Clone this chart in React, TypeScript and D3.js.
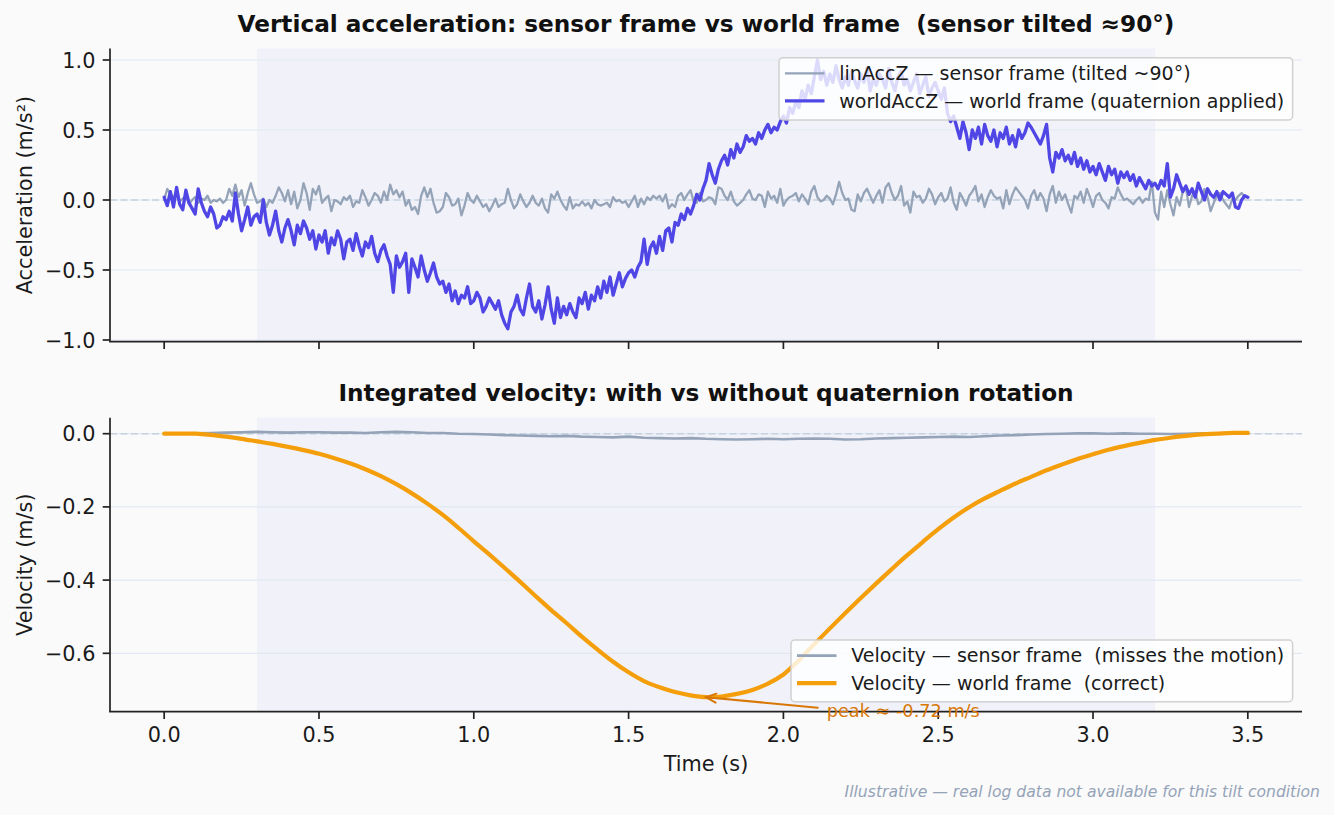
import React from 'react';
import * as d3 from 'd3';

// ---------- data ----------
const SAMPLE_DT = 0.01; // acceleration sample step (s)
const VEL_DT = 0.05; // velocity sample step (s)

const linAccZ = [
  0.00, 0.08, 0.04, 0.02, 0.05, -0.01, 0.01, 0.03, -0.03, 0.00,
  0.02, -0.02, 0.01, 0.00, 0.03, -0.02, 0.00, -0.01, 0.01, -0.02,
  0.00, 0.08, 0.03, 0.11, 0.02, 0.07, -0.04, 0.05, 0.12, 0.04,
  -0.02, -0.01, 0.01, -0.05, 0.00, -0.02, 0.03, 0.09, 0.05, -0.01,
  0.07, -0.03, 0.06, -0.06, 0.00, 0.12, 0.05, -0.07, 0.08, 0.04,
  0.10, -0.02, 0.01, 0.03, -0.08, 0.00, -0.01, -0.03, 0.02, 0.00,
  0.03, -0.05, -0.01, -0.02, 0.07, 0.02, -0.04, 0.00, 0.05, 0.03,
  -0.02, 0.06, 0.00, 0.11, 0.04, 0.07, 0.02, 0.06, -0.04, 0.00,
  -0.07, -0.05, -0.10, 0.03, 0.09, 0.02, 0.08, -0.02, -0.09, -0.08,
  -0.05, 0.05, 0.02, -0.04, -0.03, 0.01, -0.11, -0.04, 0.05, 0.00,
  -0.02, 0.03, -0.01, -0.05, -0.03, -0.08, -0.04, 0.01, -0.05, -0.03,
  -0.02, 0.08, 0.00, -0.06, -0.03, 0.04, -0.01, -0.05, -0.02, 0.03,
  -0.02, -0.04, 0.01, -0.06, -0.09, 0.04, 0.01, 0.06, 0.00, -0.04,
  -0.07, 0.02, -0.06, -0.03, -0.04, -0.01, -0.04, -0.02, -0.06, 0.00,
  -0.03, -0.04, -0.03, -0.02, -0.05, 0.02, -0.01, 0.00, -0.02, -0.01,
  -0.05, -0.01, 0.03, -0.05, 0.01, -0.03, 0.02, 0.00, 0.03, 0.01,
  0.03, -0.01, 0.04, -0.06, -0.03, -0.05, 0.03, 0.05, 0.00, 0.04,
  0.07, -0.01, -0.02, 0.05, -0.01, 0.00, 0.02, 0.01, -0.03, 0.09,
  0.08, 0.03, 0.00, 0.06, -0.01, -0.04, -0.02, 0.00, 0.04, 0.07,
  0.01, 0.00, 0.04, 0.03, -0.05, 0.06, 0.01, 0.03, -0.02, 0.08,
  -0.04, 0.00, 0.02, 0.03, 0.05, -0.01, 0.04, 0.01, -0.03, 0.06,
  0.10, 0.02, -0.01, 0.00, 0.03, 0.01, -0.03, 0.04, 0.13, 0.05,
  0.00, 0.01, -0.07, -0.08, 0.04, -0.01, 0.05, 0.08, 0.03, -0.02,
  0.03, 0.07, -0.02, 0.09, 0.12, 0.05, 0.00, 0.03, 0.10, -0.04,
  -0.01, -0.09, 0.06, 0.02, 0.03, -0.02, 0.01, 0.08, 0.04, -0.03,
  0.02, 0.05, -0.01, 0.01, 0.09, -0.02, -0.07, 0.05, 0.01, -0.04,
  0.03, 0.06, 0.10, -0.01, 0.04, -0.05, 0.02, 0.07, 0.03, 0.01,
  0.02, -0.06, 0.07, -0.03, 0.04, 0.09, 0.06, 0.03, 0.00, -0.06,
  0.03, 0.07, 0.00, 0.05, 0.01, -0.08, 0.04, 0.10, -0.02, 0.06,
  0.00, 0.04, -0.03, -0.09, 0.03, 0.01, 0.06, -0.02, 0.08, 0.02,
  -0.05, 0.03, 0.05, 0.00, -0.02, -0.06, 0.02, 0.01, 0.09, 0.04,
  0.00, 0.01, -0.01, -0.03, 0.00, 0.02, -0.02, 0.01, 0.00, 0.13,
  -0.09, -0.14, 0.06, -0.05, 0.07, -0.03, -0.11, 0.02, -0.04, 0.06,
  0.09, -0.05, 0.03, 0.06, -0.03, -0.01, 0.08, 0.02, -0.08, -0.02,
  0.03, 0.05, 0.00, -0.03, -0.06, 0.01, 0.00, 0.03, 0.05, 0.02,
  0.02,
];

const worldAccZ = [
  0.02, -0.04, 0.06, -0.05, 0.09, -0.03, -0.07, 0.07, -0.02, -0.06,
  -0.10, 0.08, -0.02, -0.08, -0.12, -0.05, -0.10, -0.20, -0.18, -0.12,
  -0.14, -0.08, -0.15, 0.05, -0.10, -0.22, -0.14, -0.05, -0.18, -0.12,
  -0.10, -0.16, 0.00, -0.16, -0.25, -0.18, -0.08, -0.22, -0.30, -0.20,
  -0.14, -0.22, -0.32, -0.18, -0.24, -0.15, -0.20, -0.28, -0.22, -0.35,
  -0.25, -0.30, -0.22, -0.38, -0.27, -0.32, -0.22, -0.28, -0.42, -0.30,
  -0.28, -0.36, -0.24, -0.33, -0.40, -0.30, -0.34, -0.26, -0.38, -0.44,
  -0.36, -0.32, -0.40, -0.46, -0.66, -0.40, -0.48, -0.44, -0.38, -0.66,
  -0.42, -0.48, -0.55, -0.40, -0.50, -0.58, -0.52, -0.45, -0.55, -0.60,
  -0.58, -0.66, -0.60, -0.72, -0.65, -0.74, -0.68, -0.70, -0.62, -0.74,
  -0.72, -0.66, -0.70, -0.80, -0.76, -0.70, -0.74, -0.78, -0.72, -0.82,
  -0.88, -0.92, -0.80, -0.76, -0.68, -0.78, -0.82, -0.70, -0.60, -0.76,
  -0.80, -0.72, -0.85, -0.75, -0.62, -0.78, -0.88, -0.70, -0.84, -0.76,
  -0.82, -0.74, -0.80, -0.84, -0.70, -0.74, -0.66, -0.78, -0.68, -0.72,
  -0.62, -0.70, -0.58, -0.66, -0.55, -0.68, -0.60, -0.52, -0.62, -0.56,
  -0.52, -0.50, -0.55, -0.48, -0.44, -0.28, -0.46, -0.34, -0.30, -0.38,
  -0.26, -0.36, -0.22, -0.20, -0.30, -0.16, -0.18, -0.10, -0.14, -0.06,
  -0.10, -0.04, 0.04, 0.00, 0.08, 0.14, 0.26, 0.18, 0.12, 0.22,
  0.28, 0.32, 0.25, 0.36, 0.30, 0.40, 0.34, 0.38, 0.46, 0.42,
  0.44, 0.40, 0.48, 0.44, 0.50, 0.54, 0.48, 0.52, 0.50, 0.56,
  0.60, 0.55, 0.66, 0.62, 0.70, 0.66, 0.78, 0.72, 0.82, 0.76,
  0.88, 1.00, 0.86, 0.92, 0.82, 0.90, 0.84, 0.96, 0.86, 0.80,
  0.88, 0.82, 0.92, 0.85, 0.80, 0.90, 0.84, 0.94, 0.78, 0.86,
  0.82, 0.90, 0.86, 0.80, 0.94, 0.84, 0.78, 0.88, 0.92, 0.82,
  0.86, 0.78, 0.84, 0.90, 0.76, 0.82, 0.88, 0.74, 0.80, 0.84,
  0.78, 0.72, 0.80, 0.62, 0.56, 0.60, 0.52, 0.44, 0.56, 0.48,
  0.36, 0.50, 0.44, 0.52, 0.40, 0.54, 0.46, 0.42, 0.50, 0.38,
  0.48, 0.44, 0.52, 0.40, 0.46, 0.38, 0.50, 0.44, 0.48, 0.55,
  0.52, 0.48, 0.44, 0.40, 0.46, 0.54, 0.30, 0.20, 0.34, 0.30,
  0.36, 0.28, 0.32, 0.26, 0.34, 0.24, 0.30, 0.22, 0.28, 0.20,
  0.24, 0.18, 0.26, 0.20, 0.14, 0.24, 0.18, 0.22, 0.12, 0.20,
  0.16, 0.20, 0.14, 0.18, 0.10, 0.16, 0.12, 0.08, 0.14, 0.10,
  0.12, 0.08, 0.14, 0.10, 0.26, 0.02, 0.08, 0.18, 0.12, 0.06,
  0.10, 0.04, 0.08, 0.02, 0.12, 0.06, 0.00, 0.08, 0.04, 0.02,
  0.06, 0.00, 0.06, 0.04, 0.02, 0.05, -0.05, -0.06, 0.00, 0.03,
  0.02,
];

const velSensor = [
  0, 0, 0.001, 0.002, 0.003, 0.004, 0.005, 0.004, 0.003, 0.004,
  0.004, 0.003, 0.003, 0.002, 0.004, 0.005, 0.004, 0.002, 0.002, 0.0,
  -0.001, -0.002, -0.004, -0.005, -0.006, -0.007, -0.006, -0.008, -0.009, -0.010,
  -0.008, -0.011, -0.012, -0.013, -0.012, -0.014, -0.015, -0.016, -0.015, -0.014,
  -0.015, -0.014, -0.013, -0.014, -0.016, -0.015, -0.013, -0.012, -0.011, -0.010,
  -0.009, -0.008, -0.009, -0.007, -0.005, -0.004, -0.002, -0.001, 0.0, 0.001,
  0.001, 0.0, 0.001, 0.0, 0.0, -0.001, 0.0, 0.001, 0.0, 0.0,
  0.0,
];

const velWorld = [
  0, 0, 0, -0.003, -0.008, -0.014, -0.021, -0.028, -0.036, -0.045,
  -0.055, -0.067, -0.081, -0.097, -0.116, -0.138, -0.163, -0.191, -0.222, -0.257,
  -0.294, -0.330, -0.367, -0.405, -0.444, -0.482, -0.518, -0.555, -0.590, -0.623,
  -0.652, -0.676, -0.693, -0.706, -0.715, -0.720, -0.718, -0.711, -0.700, -0.683,
  -0.658, -0.619, -0.575, -0.532, -0.490, -0.449, -0.409, -0.370, -0.332, -0.296,
  -0.261, -0.229, -0.201, -0.177, -0.156, -0.136, -0.118, -0.100, -0.084, -0.069,
  -0.056, -0.044, -0.034, -0.025, -0.017, -0.011, -0.006, -0.002, 0.000, 0.002,
  0.002,
];

const xTicks = [0, 0.5, 1.0, 1.5, 2.0, 2.5, 3.0, 3.5];
const accTicks = [-1.0, -0.5, 0.0, 0.5, 1.0];
const velTicks = [-0.6, -0.4, -0.2, 0.0];
const motionWindow = [0.3, 3.2];
const peakPoint = { t: 1.75, v: -0.72 };
const peakLabelPos = { t: 2.14, v: -0.7745 };

const titles = [
  'Vertical acceleration: sensor frame vs world frame  (sensor tilted ≈90°)',
  'Integrated velocity: with vs without quaternion rotation',
];
const accLegend = [
  'linAccZ — sensor frame (tilted ~90°)',
  'worldAccZ — world frame (quaternion applied)',
];
const velLegend = [
  'Velocity — sensor frame  (misses the motion)',
  'Velocity — world frame  (correct)',
];
const footer = 'Illustrative — real log data not available for this tilt condition';

// ---------- styles ----------
const W = 1334;
const H = 815;
const FONT = "'DejaVu Sans', 'Liberation Sans', sans-serif";
const C_GRAY = '#94a3b8';
const C_INDIGO = '#4f46e5';
const C_ORANGE = '#f59e0b';
const C_ANNOT = '#d97706';
const C_AXIS = '#222222';
const C_GRID = '#e1e8f2';
const C_ZERO = '#c5d2df';
const TICK_FS = 20.8;
const LEG_FS = 19;
const TITLE_FS = 23.2;
const PRE = { whiteSpace: 'pre' as const };

const X0 = 110;
const X1 = 1302;
const TOP = [48.5, 341.7];
const BOT = [417.7, 711.7];

const x = d3.scaleLinear().domain([-0.175, 3.675]).range([X0, X1]);
const yAcc = d3.scaleLinear().domain([-1.0121, 1.0821]).range([TOP[1], TOP[0]]);
const yVel = d3.scaleLinear().domain([-0.7596, 0.0437]).range([BOT[1], BOT[0]]);
const fmt = d3.format('.1f');

const accT = linAccZ.map((_, i) => i * SAMPLE_DT);
const velT = velWorld.map((_, i) => i * VEL_DT);

function Panel({ y, ticks, rows, showXLabels }: any) {
  const [yTop, yBot] = y.range().slice().reverse();
  return (
    <g>
      <rect
        x={x(motionWindow[0])}
        y={yTop}
        width={x(motionWindow[1]) - x(motionWindow[0])}
        height={yBot - yTop}
        fill="#6366f1"
        fillOpacity={0.055}
      />
      {ticks.map((t: number) => (
        <line key={'g' + t} x1={X0} x2={X1} y1={y(t)} y2={y(t)} stroke={C_GRID} strokeWidth={1.2} />
      ))}
      <line x1={X0} x2={X1} y1={y(0)} y2={y(0)} stroke={C_ZERO} strokeWidth={1.6} strokeDasharray="7 3.5" />
      {rows}
      {/* spines */}
      <line x1={X0} x2={X0} y1={yTop} y2={yBot} stroke={C_AXIS} strokeWidth={1.7} />
      <line x1={X0 - 0.85} x2={X1} y1={yBot} y2={yBot} stroke={C_AXIS} strokeWidth={1.7} />
      {ticks.map((t: number) => (
        <g key={'yt' + t}>
          <line x1={X0 - 7.3} x2={X0} y1={y(t)} y2={y(t)} stroke={C_AXIS} strokeWidth={1.7} />
          <text
            x={X0 - 14.6}
            y={y(t) + 0.364 * TICK_FS}
            textAnchor="end"
            fontSize={TICK_FS}
            fill="#1a1a1a"
          >
            {fmt(t)}
          </text>
        </g>
      ))}
      {xTicks.map((t) => (
        <g key={'xt' + t}>
          <line x1={x(t)} x2={x(t)} y1={yBot} y2={yBot + 7.3} stroke={C_AXIS} strokeWidth={1.7} />
          {showXLabels && (
            <text x={x(t)} y={yBot + 30} textAnchor="middle" fontSize={TICK_FS} fill="#1a1a1a">
              {fmt(t)}
            </text>
          )}
        </g>
      ))}
    </g>
  );
}

function Legend({ x0, y0, x1, y1, items }: any) {
  const rowH = 27.6;
  const firstRow = y0 + 15.6;
  return (
    <g>
      <rect
        x={x0}
        y={y0}
        width={x1 - x0}
        height={y1 - y0}
        rx={4}
        fill="#ffffff"
        fillOpacity={0.8}
        stroke="#cccccc"
        strokeOpacity={0.9}
        strokeWidth={1.5}
      />
      {items.map((it: any, i: number) => {
        const ry = firstRow + i * rowH;
        return (
          <g key={i}>
            <line x1={x0 + 6} x2={x0 + 45.5} y1={ry} y2={ry} stroke={it.color} strokeWidth={it.width} />
            <text x={x0 + 60.3} y={ry + 6.6} fontSize={LEG_FS} fill="#1a1a1a" style={PRE}>
              {it.label}
            </text>
          </g>
        );
      })}
    </g>
  );
}

export default function App() {
  const accLine = (vals: number[]) =>
    d3
      .line<number>()
      .x((_, i) => x(accT[i]))
      .y((d) => yAcc(d))(vals) as string;
  const velLine = (vals: number[], curve: any) =>
    d3
      .line<number>()
      .x((_, i) => x(velT[i]))
      .y((d) => yVel(d))
      .curve(curve)(vals) as string;

  // annotation geometry
  const tipX = x(peakPoint.t);
  const tipY = yVel(peakPoint.v);
  const txtX = x(peakLabelPos.t);
  const txtY = yVel(peakLabelPos.v);
  const startX = txtX - 9;
  const startY = txtY - 9.5;
  const ang = Math.atan2(tipY - startY, tipX - startX);
  const headLen = 11;
  const headAng = 0.42;
  const h1 = [tipX - headLen * Math.cos(ang - headAng), tipY - headLen * Math.sin(ang - headAng)];
  const h2 = [tipX - headLen * Math.cos(ang + headAng), tipY - headLen * Math.sin(ang + headAng)];

  return (
    <div style={{ position: 'fixed', left: 0, top: 0, width: W, height: H, background: '#fafafa' }}>
      <svg width={W} height={H} style={{ display: 'block', fontFamily: FONT }}>
        <rect x={0} y={0} width={W} height={H} fill="#fafafa" />

        {/* top panel */}
        <Panel
          y={yAcc}
          ticks={accTicks}
          showXLabels={false}
          rows={
            <g fill="none" strokeLinejoin="round" strokeLinecap="round">
              <path d={accLine(linAccZ)} stroke={C_GRAY} strokeWidth={2.3} />
              <path d={accLine(worldAccZ)} stroke={C_INDIGO} strokeWidth={3.3} />
            </g>
          }
        />
        <Legend
          x0={779}
          y0={57.7}
          x1={1292.6}
          y1={120}
          items={[
            { label: accLegend[0], color: C_GRAY, width: 2.3 },
            { label: accLegend[1], color: C_INDIGO, width: 3.3 },
          ]}
        />
        <text
          x={(X0 + X1) / 2}
          y={TOP[0] - 17}
          textAnchor="middle"
          fontSize={TITLE_FS}
          fontWeight="bold"
          fill="#111"
          style={PRE}
        >
          {titles[0]}
        </text>
        <text
          transform={`translate(31.7, ${(TOP[0] + TOP[1]) / 2}) rotate(-90)`}
          textAnchor="middle"
          fontSize={TICK_FS}
          fill="#1a1a1a"
        >
          Acceleration (m/s²)
        </text>

        {/* bottom panel */}
        <Panel
          y={yVel}
          ticks={velTicks}
          showXLabels={true}
          rows={
            <g fill="none" strokeLinejoin="round" strokeLinecap="round">
              <path d={velLine(velSensor, d3.curveLinear)} stroke={C_GRAY} strokeWidth={2.6} />
              <path d={velLine(velWorld, d3.curveCatmullRom.alpha(0.5))} stroke={C_ORANGE} strokeWidth={4.2} />
            </g>
          }
        />
        <Legend
          x0={791}
          y0={640}
          x1={1292.6}
          y1={701.7}
          items={[
            { label: velLegend[0], color: C_GRAY, width: 2.6 },
            { label: velLegend[1], color: C_ORANGE, width: 4.2 },
          ]}
        />
        <text
          x={(X0 + X1) / 2}
          y={BOT[0] - 17}
          textAnchor="middle"
          fontSize={TITLE_FS}
          fontWeight="bold"
          fill="#111"
          style={PRE}
        >
          {titles[1]}
        </text>
        <text
          transform={`translate(31.7, ${(BOT[0] + BOT[1]) / 2}) rotate(-90)`}
          textAnchor="middle"
          fontSize={TICK_FS}
          fill="#1a1a1a"
        >
          Velocity (m/s)
        </text>
        <text x={(X0 + X1) / 2} y={771} textAnchor="middle" fontSize={TICK_FS} fill="#1a1a1a">
          Time (s)
        </text>

        {/* annotation */}
        <g stroke={C_ANNOT} strokeWidth={2} fill="none" strokeLinecap="round">
          <line x1={startX} y1={startY} x2={tipX} y2={tipY} />
          <polyline points={`${h1[0]},${h1[1]} ${tipX},${tipY} ${h2[0]},${h2[1]}`} />
        </g>
        <text x={txtX} y={txtY} fontSize={17.7} fill={C_ANNOT} style={PRE}>
          peak ≈ -0.72 m/s
        </text>

        <text x={1320} y={796.5} textAnchor="end" fontSize={15.6} fontStyle="italic" fill={C_GRAY}>
          {footer}
        </text>
      </svg>
    </div>
  );
}
